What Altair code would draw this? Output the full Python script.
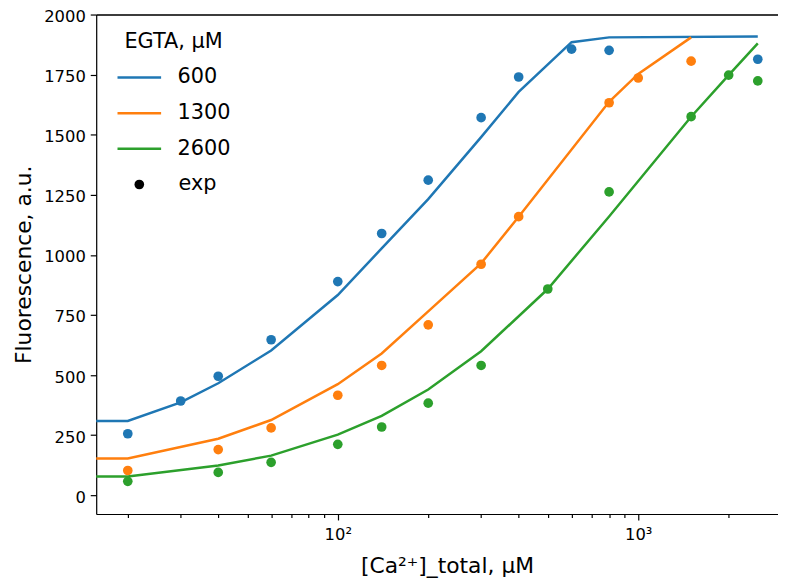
import altair as alt
import pandas as pd

# ---- experimental points (Ca total, µM  ->  fluorescence, a.u.) ----
ca_exp_600 = [20, 30, 40, 60, 100, 140, 200, 300, 400, 600, 800, 2500]
f_exp_600 = [256, 392, 495, 647, 889, 1089, 1311, 1571, 1740, 1856, 1851, 1814]

ca_exp_1300 = [20, 40, 60, 100, 140, 200, 300, 400, 800, 1000, 1500]
f_exp_1300 = [103, 190, 280, 416, 540, 709, 961, 1159, 1633, 1736, 1806]

ca_exp_2600 = [20, 40, 60, 100, 140, 200, 300, 500, 800, 1500, 2000, 2500]
f_exp_2600 = [58, 95, 137, 212, 284, 383, 540, 858, 1262, 1575, 1748, 1724]

# ---- model curves (first point is Ca = 0, shown at 1 on the log axis) ----
ca_fit_600 = [1, 20, 30, 40, 60, 100, 140, 200, 300, 400, 600, 800, 2500]
f_fit_600 = [309, 309, 386, 466, 602, 833, 1027, 1232, 1490, 1678, 1885, 1905, 1909]

ca_fit_1300 = [1, 20, 40, 60, 100, 140, 200, 300, 400, 800, 1000, 1500]
f_fit_1300 = [153, 153, 235, 313, 462, 590, 765, 965, 1159, 1637, 1753, 1905]

ca_fit_2600 = [1, 20, 40, 60, 100, 140, 200, 300, 500, 800, 1500, 2000, 2500]
f_fit_2600 = [78, 78, 124, 165, 252, 330, 440, 599, 858, 1160, 1575, 1748, 1880]

egta_levels = ["600", "1300", "2600"]
colors = ["#1f77b4", "#ff7f0e", "#2ca02c"]

x_ticks = [20, 30, 40, 50, 60, 70, 80, 90, 100, 200, 300, 400, 500, 600, 700, 800, 900, 1000, 2000]
y_ticks = [0, 250, 500, 750, 1000, 1250, 1500, 1750, 2000]

fit_rows, exp_rows = [], []
for lev, xs, ys in zip(egta_levels, [ca_fit_600, ca_fit_1300, ca_fit_2600],
                       [f_fit_600, f_fit_1300, f_fit_2600]):
    for i, (x, y) in enumerate(zip(xs, ys)):
        fit_rows.append({"ca": x, "F": y, "egta": lev, "order": i})
for lev, xs, ys in zip(egta_levels, [ca_exp_600, ca_exp_1300, ca_exp_2600],
                       [f_exp_600, f_exp_1300, f_exp_2600]):
    for x, y in zip(xs, ys):
        exp_rows.append({"ca": x, "F": y, "egta": lev, "kind": "exp"})

fit_df = pd.DataFrame(fit_rows)
exp_df = pd.DataFrame(exp_rows)

FONT = "DejaVu Sans"
x_scale = alt.Scale(type="log", domain=[15.7, 2919], nice=False)
y_scale = alt.Scale(domain=[-78, 2000], nice=False, zero=False)
color_scale = alt.Scale(domain=egta_levels, range=colors)

color_legend = alt.Legend(
    title="EGTA, µM", orient="none", legendX=20, legendY=17, padding=0,
    titleFontSize=21, titleFontWeight="normal", titleColor="black", titleFont=FONT,
    titleAnchor="middle", titleAlign="center", titlePadding=2,
    labelFontSize=21, labelColor="black", labelFont=FONT, labelOffset=15,
    symbolType="stroke", symbolSize=1936, symbolStrokeWidth=2.5, rowPadding=2,
)
shape_legend = alt.Legend(
    title=None, orient="none", legendX=20, legendY=161, padding=0,
    labelFontSize=21, labelColor="black", labelFont=FONT, labelOffset=29,
    symbolType="circle", symbolSize=95, symbolFillColor="black",
    symbolStrokeColor="black", symbolStrokeWidth=0, symbolOffset=13, symbolOpacity=1,
)

x_axis = alt.Axis(
    values=x_ticks, grid=False,
    labelExpr="datum.value == 100 ? '10²' : datum.value == 1000 ? '10³' : ''",
    tickSize={"condition": {"test": "datum.value == 100 || datum.value == 1000", "value": 6}, "value": 3.5},
    labelPadding=7, labelFontSize=16.5, labelFont=FONT, labelColor="black",
    title="[Ca²⁺]_total, µM", titleFontSize=22, titleFont=FONT, titleFontWeight="normal",
    titleColor="black", titlePadding=13, titleX=354,
    domainColor="black", domainWidth=1.2, tickColor="black", tickWidth=1.2,
)
y_axis = alt.Axis(
    values=y_ticks, grid=False, tickSize=6, labelPadding=5, format="d", labelOffset=2,
    labelFontSize=16.5, labelFont=FONT, labelColor="black",
    title="Fluorescence, a.u.", titleFontSize=22, titleFont=FONT, titleFontWeight="normal",
    titleColor="black", titlePadding=8,
    domainColor="black", domainWidth=1.2, tickColor="black", tickWidth=1.2,
)

lines = alt.Chart(fit_df).mark_line(strokeWidth=2.5, clip=True).encode(
    x=alt.X("ca:Q", scale=x_scale, axis=x_axis),
    y=alt.Y("F:Q", scale=y_scale, axis=y_axis),
    color=alt.Color("egta:N", scale=color_scale, legend=color_legend),
    order="order:Q",
)

points = alt.Chart(exp_df).mark_point(filled=True, size=95, opacity=1, clip=True).encode(
    x=alt.X("ca:Q", scale=x_scale,
            axis=alt.Axis(orient="top", labels=False, ticks=False, title=None,
                          grid=False, domainColor="black", domainWidth=1.4)),
    y=alt.Y("F:Q", scale=y_scale, axis=y_axis),
    color=alt.Color("egta:N", scale=color_scale, legend=None),
    shape=alt.Shape("kind:N", scale=alt.Scale(domain=["exp"], range=["circle"]), legend=shape_legend),
)

chart = alt.layer(lines, points).resolve_axis(x="independent").properties(
    width=688, height=504,
    autosize=alt.AutoSizeParams(type="none"),
    padding={"left": 89, "top": 4, "right": 0, "bottom": 64},
).configure_view(stroke=None).configure(background="white")

chart.save("out.html", embed_options={"renderer": "svg", "actions": False})
